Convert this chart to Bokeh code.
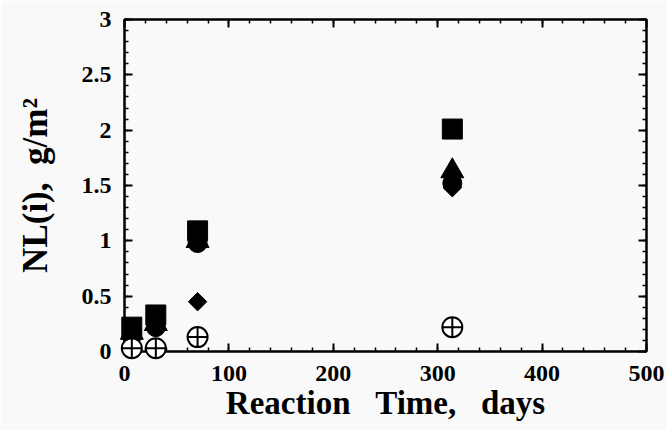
import math
from bokeh.plotting import figure
from bokeh.models import LinearAxis, FixedTicker, Range1d
from bokeh.embed import file_html
from bokeh.resources import INLINE

# Data
time_days = [7, 30, 70, 314]
nl_square = [0.22, 0.33, 1.09, 2.01]
nl_triangle = [0.17, 0.25, 1.00, 1.63]
nl_circle = [0.14, 0.22, 0.98, 1.52]
nl_diamond = [0.15, 0.22, 0.45, 1.48]
nl_open = [0.03, 0.03, 0.13, 0.22]

x_ticks = [0, 100, 200, 300, 400, 500]
y_ticks = [0, 0.5, 1, 1.5, 2, 2.5, 3]
x_minor = [v for v in range(0, 501, 20)]
y_minor = [round(i * 0.1, 1) for i in range(0, 31)]

x_title = "Reaction\u00a0\u00a0\u00a0Time,\u00a0\u00a0\u00a0days"
y_title = "NL(i),\u00a0 g/m\u00b2"

BG = "#f9f9f9"
FONT = "Liberation Serif"

p = figure(width=667, height=430, output_backend="svg", toolbar_location=None,
           x_range=Range1d(0, 500), y_range=Range1d(0, 3),
           background_fill_color=BG, border_fill_color=BG,
           min_border_left=124, min_border_right=21, min_border_top=19, min_border_bottom=79)
p.grid.visible = False
p.outline_line_color = "black"
p.outline_line_width = 2

def style_axis(ax, ticks, labels=True):
    ax.axis_line_width = 2
    ax.axis_line_color = "black"
    ax.major_tick_in = 8
    ax.major_tick_out = 0
    ax.minor_tick_in = 4
    ax.minor_tick_out = 0
    ax.major_tick_line_width = 2
    ax.minor_tick_line_width = 1.5
    ax.major_tick_line_color = "black"
    ax.minor_tick_line_color = "black"
    if labels:
        ax.major_label_text_font = FONT
        ax.major_label_text_font_style = "bold"
        ax.major_label_text_font_size = "24px"
        ax.major_label_text_color = "black"
        ax.axis_label_text_font = FONT
        ax.axis_label_text_font_style = "bold"
        ax.axis_label_text_font_size = "35px"
        ax.axis_label_text_color = "black"
    else:
        ax.major_label_overrides = {t: "" for t in ticks}
        ax.major_label_standoff = 0

p.xaxis.ticker = FixedTicker(ticks=x_ticks, minor_ticks=x_minor)
p.yaxis.ticker = FixedTicker(ticks=y_ticks, minor_ticks=y_minor)
style_axis(p.xaxis[0], x_ticks)
style_axis(p.yaxis[0], y_ticks)
p.yaxis.axis_label = y_title
p.xaxis.axis_label = x_title
p.xaxis.axis_label_text_font_size = "33px"
p.xaxis.major_label_standoff = 14
p.xaxis.axis_label_standoff = 1
p.yaxis.major_label_standoff = 13
p.yaxis.axis_label_standoff = 24

top = LinearAxis(ticker=FixedTicker(ticks=x_ticks, minor_ticks=x_minor))
right = LinearAxis(ticker=FixedTicker(ticks=y_ticks, minor_ticks=y_minor))
style_axis(top, x_ticks, labels=False)
style_axis(right, y_ticks, labels=False)
p.add_layout(top, "above")
p.add_layout(right, "right")

p.scatter(time_days, nl_circle, marker="circle", size=19, color="black", level="overlay")
p.scatter(time_days, nl_diamond, marker="square", size=13, angle=math.pi / 4, color="black", level="overlay")
p.scatter(time_days, nl_triangle, marker="triangle", size=23, color="black", level="overlay")
p.scatter(time_days, nl_square, marker="square", size=20, color="black", level="overlay")
p.scatter(time_days, nl_open, marker="circle_cross", size=20, fill_color="white",
          line_color="black", line_width=2, level="overlay")

open("out.html", "w").write(file_html(p, INLINE))
